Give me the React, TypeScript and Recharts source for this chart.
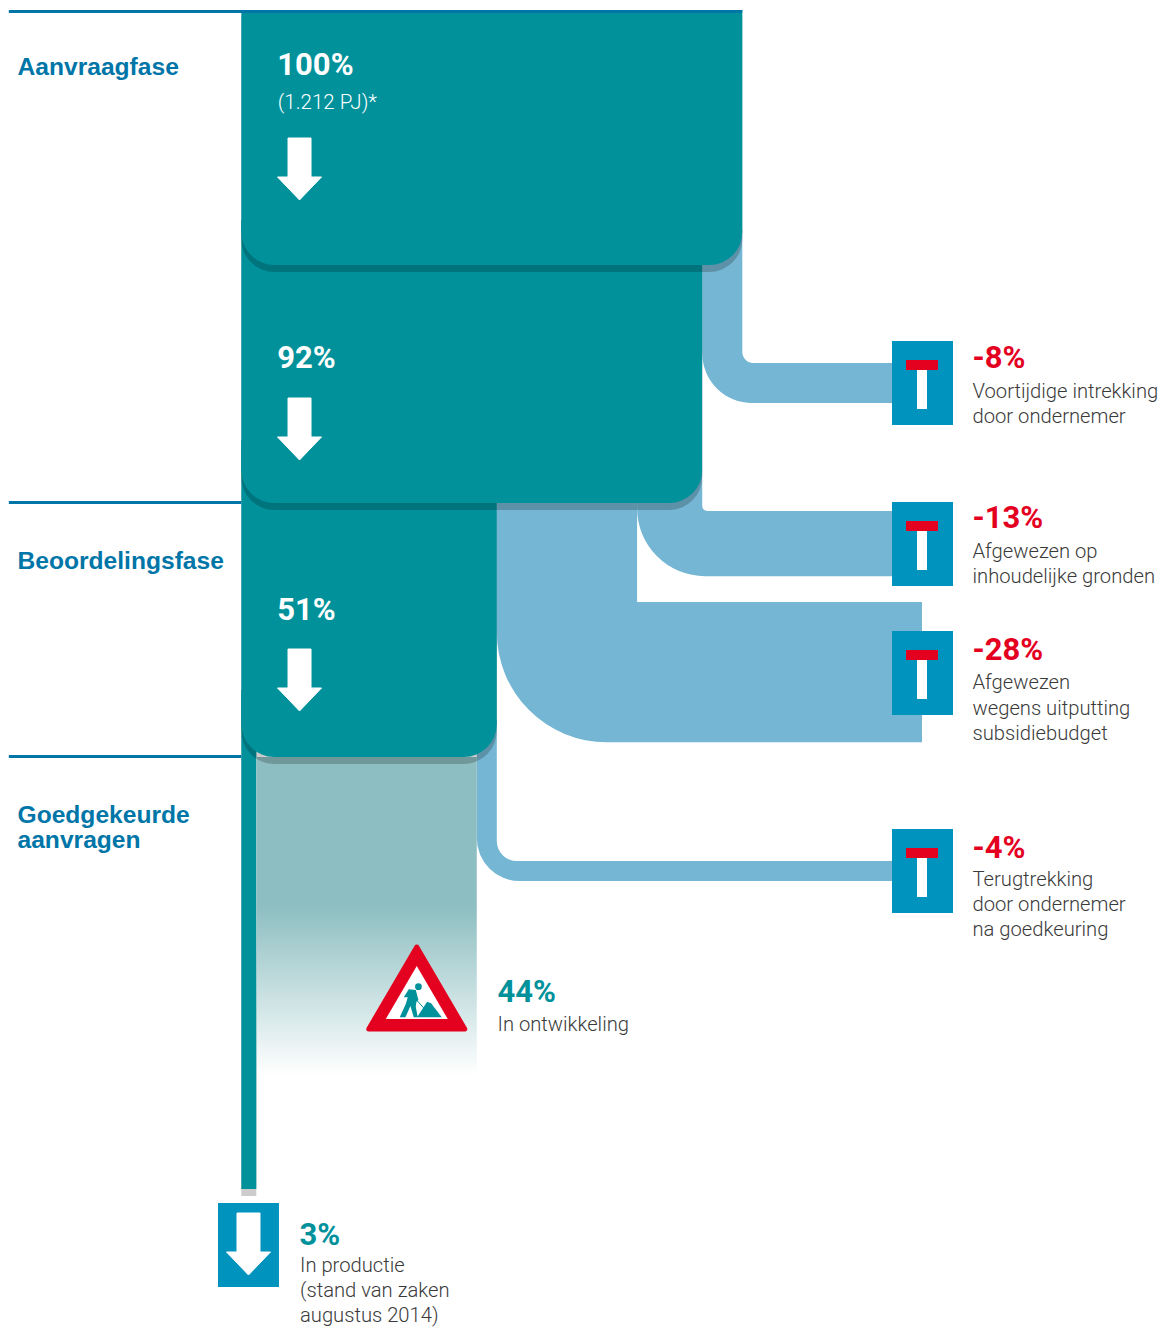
import React from 'react';
import { ComposedChart, Bar, XAxis, YAxis } from 'recharts';

const W = 1167;
const H = 1327;
const X_DOMAIN: [number, number] = [-48.164, 184.77];
const Y_DOMAIN: [number, number] = [0, 1327];
const PX_PER_PCT = W / (X_DOMAIN[1] - X_DOMAIN[0]);

const TEAL = '#00919B';
const FLOW = '#74B6D3';
const SQUARE = '#0093BE';
const RED = '#E4001F';
const HEAD = '#0076A8';
const INK = '#3A3A3A';
const BOLD_FONT = 'Roboto, "Liberation Sans", sans-serif';
const HEAD_FONT = '"Liberation Sans", Arial, sans-serif';
const NOTE_FONT = 'Roboto, "Liberation Sans", sans-serif';

// Funnel stages: percentage still in the pipeline and its vertical extent
const stageNames = ['Aanvraag', 'Na intrekking', 'Na beoordeling', 'In productie'];
const stageValues = [100, 92, 51, 3];
const stageTops = [10, 220, 440, 690];
const stageBottoms = [265, 503, 757, 1189];
const stageRadii = [33, 33, 33, 0];
const stageArrows = [138, 398, 649, null];
const stageLabels = ['100%', '92%', '51%', null];
const stageLabelDepths = [75, 368, 620, null];

// Outflows: share, where it leaves the funnel, band it runs along
const flowNames = ['Voortijdige intrekking', 'Inhoudelijk afgewezen', 'Budget uitgeput', 'Terugtrekking'];
const flowFrom = [92, 79, 51, 47];
const flowValues = [8, 13, 28, 4];
const flowTops = [230, 470, 495, 720];
const flowBandTops = [363, 511, 602, 861];
const flowEnds = [129.88, 129.88, 135.87, 129.88];
const flowOuterRadii = [50, 68, 110, 43];
const flowInnerRadii = [11, 5, 0, 20];
const ICON_POS = 129.88;

// Share in development
const developmentSpan: [number, number] = [3.1, 47];
const developmentDepth: [number, number] = [757, 1075];

// Final "in productie" marker
const exitSpan: [number, number] = [-4.65, 7.52];
const exitDepth: [number, number] = [1203, 1287];

// Horizontal phase rules
const phaseRules = [11.5, 502.5, 756.5];
const phaseRuleEnds = [100, 0, 0];
const RULE_START = -46.4;

const xPx = (p: number) => ((p - X_DOMAIN[0]) / (X_DOMAIN[1] - X_DOMAIN[0])) * W;
const yPx = (d: number) => ((d - Y_DOMAIN[0]) / (Y_DOMAIN[1] - Y_DOMAIN[0])) * H;

type Row = Record<string, any>;

const rows: Row[] = [
  ...flowNames.map((name, i) => ({
    kind: 'flow',
    name,
    span: [flowFrom[i], flowFrom[i] + flowValues[i]],
    mid: (flowTops[i] + flowBandTops[i]) / 2,
    top: flowTops[i],
    bandTop: flowBandTops[i],
    band: flowValues[i] * PX_PER_PCT,
    end: flowEnds[i],
    ro: flowOuterRadii[i],
    ri: flowInnerRadii[i],
  })),
  {
    kind: 'development',
    name: 'In ontwikkeling',
    span: developmentSpan,
    mid: (developmentDepth[0] + developmentDepth[1]) / 2,
    top: developmentDepth[0],
    bottom: developmentDepth[1],
  },
  ...[3, 2, 1, 0].map((i) => ({
    kind: 'stage',
    name: stageNames[i],
    span: [0, stageValues[i]],
    mid: (stageTops[i] + stageBottoms[i]) / 2,
    top: stageTops[i],
    bottom: stageBottoms[i],
    r: stageRadii[i],
    arrow: stageArrows[i],
    label: stageLabels[i],
    labelDepth: stageLabelDepths[i],
    sub: i === 0 ? '(1.212 PJ)*' : null,
  })),
  {
    kind: 'exit',
    name: 'Exit',
    span: exitSpan,
    mid: (exitDepth[0] + exitDepth[1]) / 2,
    top: exitDepth[0],
    bottom: exitDepth[1],
  },
  ...phaseRules.map((d, i) => ({
    kind: 'rule',
    name: `Fase ${i + 1}`,
    span: [RULE_START, phaseRuleEnds[i]],
    mid: d,
  })),
];

const downArrow = (cx: number, top: number, fill: string) => (
  <path
    d={`M${cx - 11.5},${top} H${cx + 11.5} V${top + 39} H${cx + 22} L${cx},${top + 62} L${cx - 22},${top + 39} H${cx - 11.5} Z`}
    fill={fill}
    stroke={fill}
    strokeWidth={1}
    strokeLinejoin="round"
  />
);

const RoadSign = ({ cx, apex }: { cx: number; apex: number }) => (
  <g>
    <path
      d={`M${cx},${apex + 3} L${cx + 48},${apex + 85} H${cx - 48} Z`}
      fill={RED}
      stroke={RED}
      strokeWidth={5}
      strokeLinejoin="round"
    />
    <path d={`M${cx},${apex + 22} L${cx + 31},${apex + 75} H${cx - 31} Z`} fill="#fff" />
    <g transform={`translate(${cx - 77},${apex - 24}) scale(0.3333)`} fill={TEAL}>
      <circle cx={236} cy={200} r={10} />
      <path d="M207,208 L228,210 L236,240 L230,245 L228,260 L234,292 L222,292 L212,258 L197,292 L180,292 L198,252 L204,232 L192,232 Z" />
      <path d="M232,292 L262,245 L274,250 L306,292 Z" />
      <path d="M230,240 L254,266" stroke={TEAL} strokeWidth={3} />
    </g>
  </g>
);

const drawRow = (props: any) => {
  const row: Row = props.payload ?? props;
  const left: number = props.x;
  const right: number = props.x + props.width;

  if (row.kind === 'flow') {
    const top = yPx(row.top);
    const bt = yPx(row.bandTop);
    const bb = bt + row.band;
    const end = xPx(row.end);
    const { ro, ri } = row;
    const iconLeft = Math.round(xPx(ICON_POS));
    const iconTop = Math.round((bt + bb) / 2 - 41.6);
    const d = [
      `M${left},${top}`,
      `L${right},${top}`,
      `L${right},${bt - ri}`,
      ri > 0 ? `A${ri},${ri} 0 0 0 ${right + ri},${bt}` : '',
      `L${end},${bt}`,
      `L${end},${bb}`,
      `L${left + ro},${bb}`,
      `A${ro},${ro} 0 0 1 ${left},${bb - ro}`,
      'Z',
    ].join(' ');
    return (
      <g>
        <path d={d} fill={FLOW} />
        <rect x={iconLeft} y={iconTop} width={61} height={84} fill={SQUARE} />
        <rect x={iconLeft + 14} y={iconTop + 19} width={32} height={10} fill={RED} />
        <rect x={iconLeft + 25} y={iconTop + 29} width={10} height={39} fill="#fff" />
      </g>
    );
  }

  if (row.kind === 'development') {
    const top = yPx(row.top);
    const bottom = yPx(row.bottom);
    return (
      <g>
        <defs>
          <linearGradient id="devFade" x1="0" y1="0" x2="0" y2="1">
            <stop offset="0" stopColor="#8DBEC1" />
            <stop offset="0.47" stopColor="#8DBEC1" />
            <stop offset="1" stopColor="#FFFFFF" />
          </linearGradient>
        </defs>
        <rect x={left} y={top} width={right - left} height={bottom - top} fill="url(#devFade)" />
        <RoadSign cx={right - 60} apex={top + 187} />
      </g>
    );
  }

  if (row.kind === 'stage') {
    const top = yPx(row.top);
    const bottom = yPx(row.bottom);
    const r: number = row.r;
    const shape = (dy: number) =>
      r > 0
        ? `M${left},${top + dy} H${right} V${bottom + dy - r} A${r},${r} 0 0 1 ${right - r},${bottom + dy} H${left + r} A${r},${r} 0 0 1 ${left},${bottom + dy - r} Z`
        : `M${left},${top + dy} H${right} V${bottom + dy} H${left} Z`;
    return (
      <g>
        <path d={shape(7)} fill="#000" fillOpacity={0.2} />
        <path d={shape(0)} fill={TEAL} />
        {row.arrow != null && downArrow(xPx(11.62), yPx(row.arrow), '#fff')}
        {row.label && (
          <text x={left + 36} y={yPx(row.labelDepth)} fontFamily={BOLD_FONT} fontSize={31} fontWeight={700} fill="#fff">
            {row.label}
          </text>
        )}
        {row.sub && (
          <text x={left + 36.5} y={yPx(row.labelDepth) + 34} fontFamily={NOTE_FONT} fontSize={20.5} fontWeight={300} fill="#fff">
            {row.sub}
          </text>
        )}
      </g>
    );
  }

  if (row.kind === 'rule') {
    return <rect x={left} y={props.y + props.height / 2 - 1.5} width={right - left} height={3} fill={HEAD} />;
  }

  const top = yPx(row.top);
  const bottom = yPx(row.bottom);
  return (
    <g>
      <rect x={left} y={top} width={right - left} height={bottom - top} fill={SQUARE} />
      {downArrow((left + right) / 2, top + 10, '#fff')}
    </g>
  );
};

// Text blocks: [text, x, baseline]
const headings: [string, number, number][] = [
  ['Aanvraagfase', 17.5, 75],
  ['Beoordelingsfase', 17.5, 569],
  ['Goedgekeurde', 17.5, 823],
  ['aanvragen', 17.5, 848],
];
const lossLabels: [string, number, number][] = [
  ['-8%', 972.5, 368],
  ['-13%', 972.5, 528],
  ['-28%', 972.5, 660],
  ['-4%', 972.5, 858],
];
const tealLabels: [string, number, number][] = [
  ['44%', 497.5, 1002],
  ['3%', 299.5, 1245],
];
const notes: [string, number, number][] = [
  ['Voortijdige intrekking', 972.5, 398],
  ['door ondernemer', 972.5, 423],
  ['Afgewezen op', 972.5, 558],
  ['inhoudelijke gronden', 972.5, 583],
  ['Afgewezen', 972.5, 689],
  ['wegens uitputting', 972.5, 715],
  ['subsidiebudget', 972.5, 740],
  ['Terugtrekking', 972.5, 886],
  ['door ondernemer', 972.5, 911],
  ['na goedkeuring', 972.5, 936],
  ['In ontwikkeling', 497.5, 1031],
  ['In productie', 300, 1272],
  ['(stand van zaken', 300, 1297],
  ['augustus 2014)', 300, 1322],
];

const txt = (list: [string, number, number][], font: string, size: number, fill: string, weight: number) =>
  list.map(([t, x, y], i) => (
    <text key={`${t}-${i}`} x={x} y={y} fontFamily={font} fontSize={size} fontWeight={weight} fill={fill}>
      {t}
    </text>
  ));

export default function App() {
  return (
    <div style={{ position: 'absolute', left: 0, top: 0, width: W, height: H, background: '#fff' }}>
      <ComposedChart
        width={W}
        height={H}
        data={rows}
        layout="vertical"
        margin={{ top: 0, right: 0, bottom: 0, left: 0 }}
      >
        <XAxis type="number" domain={X_DOMAIN} hide allowDataOverflow />
        <YAxis type="number" dataKey="mid" domain={Y_DOMAIN} hide allowDataOverflow />
        <Bar dataKey="span" barSize={2} shape={drawRow} isAnimationActive={false} />
        <g>
          {txt(headings, HEAD_FONT, 24.6, HEAD, 700)}
          {txt(lossLabels, BOLD_FONT, 31, RED, 700)}
          {txt(tealLabels, BOLD_FONT, 31, TEAL, 700)}
          {txt(notes, NOTE_FONT, 20.2, INK, 300)}
        </g>
      </ComposedChart>
    </div>
  );
}
